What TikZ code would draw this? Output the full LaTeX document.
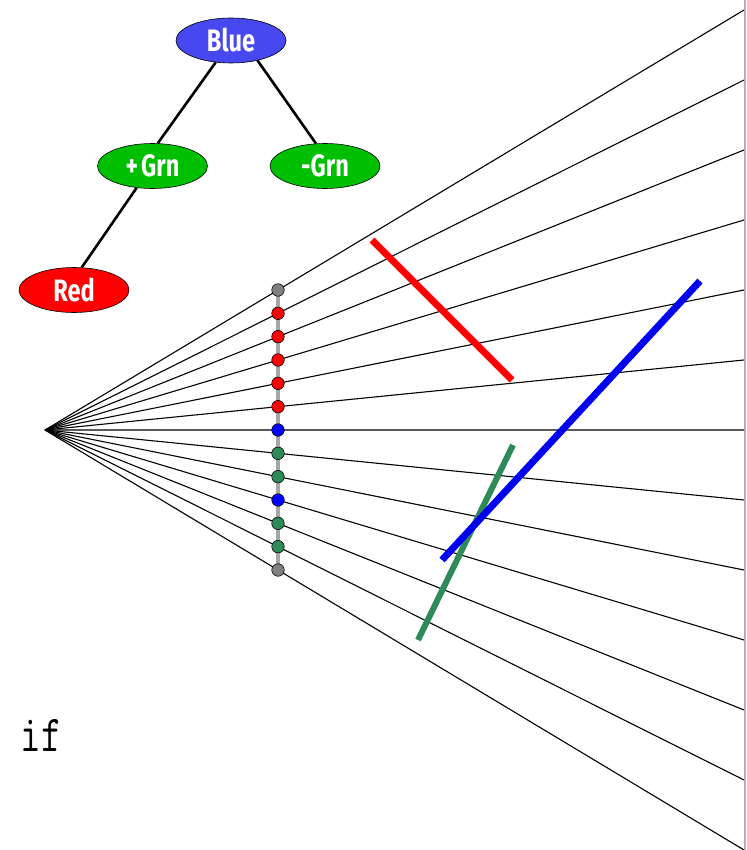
\documentclass[tikz,border=0pt]{standalone}
\usepackage{fontspec}
\newfontfamily\treefont[FakeStretch=0.76]{Fira Sans}
\usetikzlibrary{shapes.geometric,calc}
\definecolor{nodeblue}{RGB}{72,72,240}
\definecolor{nodegreen}{RGB}{0,190,0}
\definecolor{nodered}{RGB}{255,0,0}
\definecolor{segred}{RGB}{255,0,0}
\definecolor{segblue}{RGB}{0,0,240}
\definecolor{seggreen}{RGB}{46,139,87}
\definecolor{dotgray}{RGB}{128,128,128}
\begin{document}
\begin{tikzpicture}[x=1pt,y=-1pt,
 treenode/.style={ellipse,draw=black,line width=0.6pt,minimum width=110pt,minimum height=45pt,inner sep=0pt,text=white,font=\treefont\bfseries\fontsize{31}{31}\selectfont},
 treeedge/.style={line width=2.6pt},
 ray/.style={line width=1.1pt},
 dotnode/.style={circle,draw=black,line width=0.6pt,minimum size=12.5pt,inner sep=0pt},
 seg/.style={line width=7pt}]
\useasboundingbox (0,0) rectangle (746,850);
% right border
\draw[gray!60, line width=2.5pt] (744.75,0) -- (744.75,850);
% tree
\node[treenode,fill=nodeblue] (blue) at (231,40.5) {Blue};
\node[treenode,fill=nodegreen] (pgrn) at (152.5,166) {+\kern3pt Grn};
\node[treenode,fill=nodegreen] (mgrn) at (325,166) {-Grn};
\node[treenode,fill=nodered] (red) at (74,290) {Red};
\draw[treeedge] (blue.235) -- (pgrn.77);
\draw[treeedge] (blue.-37) -- (mgrn.112);
\draw[treeedge] (pgrn.234) -- (red.71);
% rays
\coordinate (eye) at (45,430);
\foreach \i in {0,...,12} {
  \coordinate (p\i) at (278,{290+23.333*\i});
  \coordinate (e\i) at ($(eye)!3!(p\i)$);
  \draw[ray] (eye) -- (e\i);
}
% segments
\coordinate (r1) at (372,240); \coordinate (r2) at (512,380);
\coordinate (g1) at (418,640); \coordinate (g2) at (513,445);
\coordinate (b1) at (442,560); \coordinate (b2) at (700,281);
\draw[seg,segred] (r1) -- (r2);
\draw[seg,seggreen,line width=6pt] (g1) -- (g2);
\draw[seg,segblue] (b1) -- (b2);
% column
\draw[line width=4pt, gray!70] (p0) -- (p12);
\foreach \i/\c in {0/dotgray,1/red,2/red,3/red,4/red,5/red,6/blue,7/seggreen,8/seggreen,9/blue,10/seggreen,11/seggreen,12/dotgray}
  \node[dotnode,fill=\c] (d\i) at (p\i) {};
% text
\node[anchor=base,inner sep=0pt,font=\ttfamily\fontsize{40}{40}\selectfont] (iftext) at (41,751) {\scalebox{1}[1.3]{if}};
\end{tikzpicture}
\end{document}
